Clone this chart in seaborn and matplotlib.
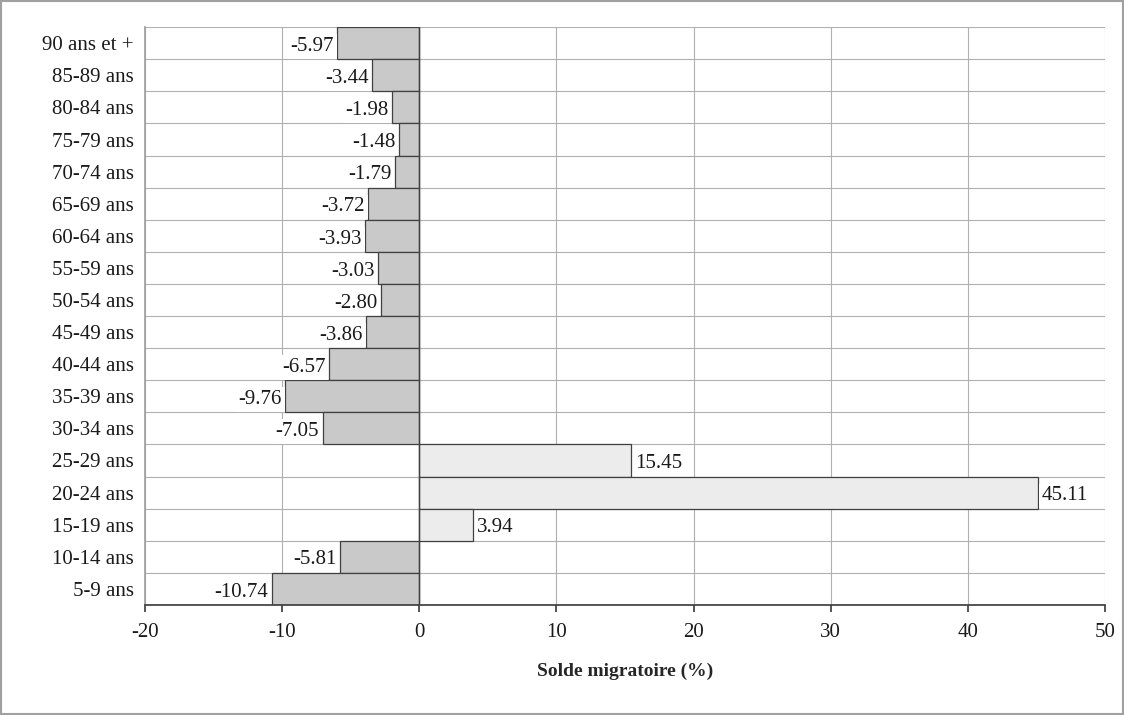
import numpy as np
import pandas as pd
import matplotlib
matplotlib.use('Agg')
import matplotlib.pyplot as plt
import seaborn as sns

# données (du haut vers le bas)
tranches = ['90 ans et +', '85-89 ans', '80-84 ans', '75-79 ans', '70-74 ans', '65-69 ans',
            '60-64 ans', '55-59 ans', '50-54 ans', '45-49 ans', '40-44 ans', '35-39 ans',
            '30-34 ans', '25-29 ans', '20-24 ans', '15-19 ans', '10-14 ans', '5-9 ans']
solde = [-5.97, -3.44, -1.98, -1.48, -1.79, -3.72, -3.93, -3.03, -2.80, -3.86, -6.57, -9.76,
         -7.05, 15.45, 45.11, 3.94, -5.81, -10.74]

sns.set_theme(style='white')
plt.rcParams['font.family'] = ['Liberation Serif', 'DejaVu Serif']
plt.rcParams['axes.unicode_minus'] = False
plt.rcParams['text.color'] = '#1a1a1a'
plt.rcParams['xtick.color'] = '#1a1a1a'
plt.rcParams['ytick.color'] = '#1a1a1a'

df = pd.DataFrame({'tranche': tranches, 'solde': solde})
couleurs = ['#ececec' if v > 0 else '#c9c9c9' for v in solde]

fig = plt.figure(figsize=(11.24, 7.15), dpi=100)
fig.patches.append(plt.Rectangle((0.001, 0.001), 0.998, 0.998, transform=fig.transFigure,
                                 fill=False, edgecolor='#a0a0a0', linewidth=1.5))
ax = fig.add_axes([0.129, 0.154, 0.854, 0.808])

sns.barplot(data=df, x='solde', y='tranche', orient='h', palette=couleurs, hue='tranche',
            legend=False, width=1.0, edgecolor='#404040', linewidth=0.9, ax=ax, zorder=2)

ax.set_xlim(-20, 50)
ax.set_ylim(len(tranches) - 0.5, -0.5)
ax.set_xticks(range(-20, 51, 10))
for x in range(-20, 51, 10):
    ax.axvline(x, color='#b0b0b0', linewidth=0.8, zorder=0)
for y in np.arange(-0.5, len(tranches), 1):
    ax.axhline(y, color='#b0b0b0', linewidth=0.8, zorder=0)
ax.axvline(0, color='#404040', linewidth=1, zorder=3)

for i, v in enumerate(solde):
    if v < 0:
        ax.text(v - 0.25, i + 0.1, f'{v:.2f}', ha='right', va='center', fontsize=15,
                bbox=dict(facecolor='white', edgecolor='none', pad=2), zorder=4)
    else:
        ax.text(v + 0.3, i + 0.1, f'{v:.2f}', ha='left', va='center', fontsize=15,
                bbox=dict(facecolor='white', edgecolor='none', pad=2), zorder=4)

for s in ['top', 'right']:
    ax.spines[s].set_visible(False)
ax.spines['left'].set_color('#a0a0a0')
ax.spines['bottom'].set_color('#404040')
ax.tick_params(axis='x', length=5, color='#404040', labelsize=15, pad=8, bottom=True)
ax.tick_params(axis='y', length=0, labelsize=15, pad=8)
ax.set_ylabel('')
ax.set_xlabel('Solde migratoire (%)', fontsize=14, fontweight='bold', labelpad=15)

fig.savefig('out.png', dpi=100)
